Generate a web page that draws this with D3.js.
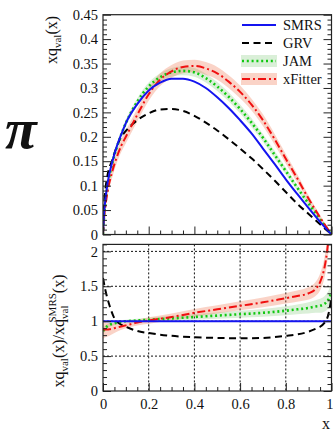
<!DOCTYPE html>
<html>
<head>
<meta charset="utf-8">
<script src="https://cdn.jsdelivr.net/npm/d3@7"></script>
<style>
  body { margin: 0; background: #fff; }
  svg { display: block; }
  text { font-family: "Liberation Serif", "DejaVu Serif", serif; fill: #111; }
</style>
</head>
<body>
<script>
// x grid for the upper panel (xq_val(x))
var xGrid = [0, 0.005, 0.01, 0.02, 0.04, 0.06, 0.08, 0.1, 0.15, 0.2, 0.25, 0.3, 0.35, 0.4, 0.45, 0.5, 0.55, 0.6, 0.65, 0.7, 0.75, 0.8, 0.85, 0.9, 0.95, 1];
var smrs    = [0, 0.045, 0.07, 0.105, 0.148, 0.18, 0.205, 0.228, 0.267, 0.295, 0.311, 0.319, 0.319, 0.313, 0.300, 0.281, 0.259, 0.234, 0.207, 0.176, 0.145, 0.113, 0.083, 0.054, 0.026, 0];
var grv     = [0, 0.062, 0.09, 0.122, 0.152, 0.18, 0.2, 0.212, 0.234, 0.248, 0.256, 0.257, 0.253, 0.243, 0.229, 0.213, 0.195, 0.176, 0.156, 0.134, 0.111, 0.087, 0.063, 0.042, 0.021, 0];
var jam     = [0, 0.04, 0.063, 0.098, 0.145, 0.178, 0.205, 0.228, 0.272, 0.303, 0.322, 0.332, 0.335, 0.332, 0.320, 0.303, 0.282, 0.257, 0.229, 0.198, 0.164, 0.130, 0.096, 0.063, 0.031, 0];
var jamErr  = [0, 0.002, 0.003, 0.004, 0.005, 0.006, 0.006, 0.007, 0.007, 0.008, 0.008, 0.009, 0.009, 0.009, 0.009, 0.009, 0.009, 0.009, 0.009, 0.008, 0.008, 0.007, 0.006, 0.005, 0.003, 0];
var xfit    = [0, 0.035, 0.056, 0.088, 0.128, 0.158, 0.182, 0.2, 0.245, 0.287, 0.317, 0.334, 0.343, 0.345, 0.340, 0.330, 0.313, 0.292, 0.266, 0.234, 0.196, 0.155, 0.115, 0.073, 0.035, 0];
var xfitErr = [0, 0.006, 0.008, 0.01, 0.012, 0.012, 0.013, 0.013, 0.013, 0.013, 0.013, 0.013, 0.013, 0.013, 0.013, 0.013, 0.013, 0.013, 0.012, 0.012, 0.011, 0.01, 0.009, 0.007, 0.005, 0];

// x grid for the ratio panel (xq_val / xq_val^SMRS)
var rGrid       = [0, 0.01, 0.02, 0.03, 0.05, 0.075, 0.1, 0.15, 0.2, 0.3, 0.4, 0.5, 0.6, 0.7, 0.8, 0.85, 0.9, 0.93, 0.95, 0.97, 0.98, 0.99, 1];
var smrsRatioX  = [0, 1];
var smrsRatio   = [1, 1];
var grvRatio    = [1.62, 1.45, 1.32, 1.21, 1.04, 0.96, 0.92, 0.86, 0.83, 0.79, 0.77, 0.76, 0.755, 0.76, 0.79, 0.81, 0.85, 0.89, 0.92, 0.98, 1.03, 1.15, 1.35];
var jamRatio    = [0.86, 0.9, 0.93, 0.95, 0.97, 0.99, 1.0, 1.01, 1.02, 1.04, 1.06, 1.08, 1.1, 1.12, 1.15, 1.17, 1.19, 1.21, 1.22, 1.25, 1.28, 1.33, 1.42];
var jamRatioErr = [0.05, 0.04, 0.035, 0.03, 0.025, 0.02, 0.02, 0.025, 0.03, 0.035, 0.04, 0.045, 0.05, 0.055, 0.065, 0.07, 0.08, 0.09, 0.1, 0.11, 0.12, 0.13, 0.15];
var xfitRatio   = [0.88, 0.88, 0.88, 0.885, 0.9, 0.92, 0.94, 0.98, 1.01, 1.06, 1.12, 1.17, 1.22, 1.27, 1.33, 1.36, 1.40, 1.46, 1.56, 1.78, 1.98, 2.3, 2.8];
var xfitRatioErr= [0.13, 0.11, 0.1, 0.09, 0.07, 0.05, 0.04, 0.04, 0.045, 0.05, 0.055, 0.06, 0.065, 0.07, 0.075, 0.08, 0.09, 0.1, 0.12, 0.15, 0.17, 0.2, 0.25];

// ticks
var xTicks      = [0, 0.2, 0.4, 0.6, 0.8, 1];
var xMinor      = [0.05, 0.1, 0.15, 0.25, 0.3, 0.35, 0.45, 0.5, 0.55, 0.65, 0.7, 0.75, 0.85, 0.9, 0.95];
var yTopTicks   = [0, 0.05, 0.1, 0.15, 0.2, 0.25, 0.3, 0.35, 0.4, 0.45];
var yTopMinor   = [0.01, 0.02, 0.03, 0.04, 0.06, 0.07, 0.08, 0.09, 0.11, 0.12, 0.13, 0.14, 0.16, 0.17, 0.18, 0.19, 0.21, 0.22, 0.23, 0.24, 0.26, 0.27, 0.28, 0.29, 0.31, 0.32, 0.33, 0.34, 0.36, 0.37, 0.38, 0.39, 0.41, 0.42, 0.43, 0.44];
var yBotTicks   = [0, 0.5, 1, 1.5, 2];
var yBotMinor   = [0.1, 0.2, 0.3, 0.4, 0.6, 0.7, 0.8, 0.9, 1.1, 1.2, 1.3, 1.4, 1.6, 1.7, 1.8, 1.9, 2.1];
var gridX       = [0.2, 0.4, 0.6, 0.8];
var gridY       = [0.5, 1, 1.5, 2];

var legendNames = ["SMRS", "GRV", "JAM", "xFitter"];

// styles
var colors = { SMRS: "#1414f0", GRV: "#000", JAM: "#10c810", xFitter: "#f01010" };
var dashes = { SMRS: null, GRV: "7,4.5", JAM: "2,2.8", xFitter: "8,3,2,3" };
var bandFill = { JAM: "rgba(70,175,60,0.2)", xFitter: "rgba(240,110,70,0.3)" };

var W = 333, H = 430;
var left = 103, right = 331.5;
var topT = 14.7, topB = 234.5;
var botT = 244.4, botB = 391;

var svg = d3.select("body").append("svg")
    .attr("width", W)
    .attr("height", H);

var x = d3.scaleLinear().domain([0, 1]).range([left, right]);
var yTop = d3.scaleLinear().domain([0, 0.45]).range([topB, topT]);
var yBot = d3.scaleLinear().domain([0, 2.1]).range([botB, botT]);

svg.append("clipPath").attr("id", "clipTop")
  .append("rect").attr("x", left).attr("y", topT).attr("width", right - left).attr("height", topB - topT);
svg.append("clipPath").attr("id", "clipBot")
  .append("rect").attr("x", left).attr("y", botT).attr("width", right - left).attr("height", botB - botT);

function zip(xs, ys, es) {
  return xs.map(function(v, i) { return { x: v, y: ys[i], e: es ? es[i] : 0 }; });
}

function drawAxes(yScale, yT, yB, majors, minors, showXLabels) {
  var g = svg.append("g").attr("class", "axes");
  // left
  g.append("g").attr("transform", "translate(" + left + ",0)")
    .call(d3.axisLeft(yScale).tickValues(majors).tickSize(-8).tickPadding(5).tickFormat(function(d) { return String(d); }));
  g.append("g").attr("transform", "translate(" + left + ",0)")
    .call(d3.axisLeft(yScale).tickValues(minors).tickSize(-4).tickFormat(""));
  // right
  g.append("g").attr("transform", "translate(" + right + ",0)")
    .call(d3.axisRight(yScale).tickValues(majors).tickSize(-8).tickFormat(""));
  g.append("g").attr("transform", "translate(" + right + ",0)")
    .call(d3.axisRight(yScale).tickValues(minors).tickSize(-4).tickFormat(""));
  // bottom
  var xb = g.append("g").attr("transform", "translate(0," + yB + ")")
    .call(d3.axisBottom(x).tickValues(xTicks).tickSize(-8).tickPadding(8)
      .tickFormat(showXLabels ? function(d) { return String(d); } : ""));
  // last label sits on the right edge, keep it inside the page
  xb.selectAll("text").filter(function(d) { return d === 1; })
    .attr("text-anchor", "end").attr("dx", 1.5);
  g.append("g").attr("transform", "translate(0," + yB + ")")
    .call(d3.axisBottom(x).tickValues(xMinor).tickSize(-4).tickFormat(""));
  g.selectAll(".domain").remove();
  g.selectAll("line").attr("stroke", "#222").attr("stroke-width", 1);
  g.selectAll("text").attr("font-size", 14.5).attr("font-family", "Liberation Serif").attr("fill", "#222");
  // frame
  g.append("rect").attr("x", left).attr("y", yT).attr("width", right - left).attr("height", yB - yT)
    .attr("fill", "none").attr("stroke", "#222").attr("stroke-width", 1.2);
}

// ---- upper panel ----
var topG = svg.append("g").attr("clip-path", "url(#clipTop)");
var areaTop = d3.area().curve(d3.curveMonotoneX)
  .x(function(d) { return x(d.x); })
  .y0(function(d) { return yTop(d.y - d.e); })
  .y1(function(d) { return yTop(d.y + d.e); });
var lineTop = d3.line().curve(d3.curveMonotoneX)
  .x(function(d) { return x(d.x); })
  .y(function(d) { return yTop(d.y); });

topG.append("path").datum(zip(xGrid, jam, jamErr)).attr("d", areaTop).attr("fill", bandFill.JAM);
topG.append("path").datum(zip(xGrid, xfit, xfitErr)).attr("d", areaTop).attr("fill", bandFill.xFitter);

var topSeries = [["GRV", grv], ["JAM", jam], ["xFitter", xfit], ["SMRS", smrs]];
topSeries.forEach(function(s) {
  topG.append("path").datum(zip(xGrid, s[1]))
    .attr("d", lineTop)
    .attr("fill", "none")
    .attr("stroke", colors[s[0]])
    .attr("stroke-width", s[0] === "JAM" ? 2.6 : 2)
    .attr("stroke-dasharray", dashes[s[0]]);
});

drawAxes(yTop, topT, topB, yTopTicks, yTopMinor, false);

// ---- ratio panel ----
var bot = svg.append("g");
bot.selectAll(".gx").data(gridX).enter().append("line")
  .attr("x1", function(d) { return x(d); }).attr("x2", function(d) { return x(d); })
  .attr("y1", botT).attr("y2", botB)
  .attr("stroke", "#111").attr("stroke-width", 1).attr("stroke-dasharray", "2,2");
bot.selectAll(".gy").data(gridY).enter().append("line")
  .attr("x1", left).attr("x2", right)
  .attr("y1", function(d) { return yBot(d); }).attr("y2", function(d) { return yBot(d); })
  .attr("stroke", "#111").attr("stroke-width", 1).attr("stroke-dasharray", "2,2");

var botC = svg.append("g").attr("clip-path", "url(#clipBot)");
var areaBot = d3.area().curve(d3.curveMonotoneX)
  .x(function(d) { return x(d.x); })
  .y0(function(d) { return yBot(d.y - d.e); })
  .y1(function(d) { return yBot(d.y + d.e); });
var lineBot = d3.line().curve(d3.curveMonotoneX)
  .x(function(d) { return x(d.x); })
  .y(function(d) { return yBot(d.y); });

botC.append("path").datum(zip(rGrid, jamRatio, jamRatioErr)).attr("d", areaBot).attr("fill", bandFill.JAM);
botC.append("path").datum(zip(rGrid, xfitRatio, xfitRatioErr)).attr("d", areaBot).attr("fill", bandFill.xFitter);

var botSeries = [["GRV", rGrid, grvRatio], ["JAM", rGrid, jamRatio], ["xFitter", rGrid, xfitRatio], ["SMRS", smrsRatioX, smrsRatio]];
botSeries.forEach(function(s) {
  botC.append("path").datum(zip(s[1], s[2]))
    .attr("d", lineBot)
    .attr("fill", "none")
    .attr("stroke", colors[s[0]])
    .attr("stroke-width", s[0] === "JAM" ? 2.6 : 2)
    .attr("stroke-dasharray", dashes[s[0]]);
});

drawAxes(yBot, botT, botB, yBotTicks, yBotMinor, true);

// ---- legend ----
var leg = svg.append("g");
legendNames.forEach(function(name, i) {
  var ly = 25 + i * 18;
  if (bandFill[name]) {
    leg.append("rect").attr("x", 241).attr("y", ly - 6).attr("width", 36).attr("height", 12)
      .attr("fill", bandFill[name]);
  }
  leg.append("line").attr("x1", 242).attr("x2", 276).attr("y1", ly).attr("y2", ly)
    .attr("stroke", colors[name]).attr("stroke-width", name === "JAM" ? 2.6 : 2)
    .attr("stroke-dasharray", dashes[name]);
  leg.append("text").attr("x", 283).attr("y", ly + 5).attr("font-size", 14.5).text(name);
});

// ---- axis titles ----
var t1 = svg.append("text")
  .attr("transform", "translate(57,40) rotate(-90)")
  .attr("text-anchor", "middle")
  .attr("font-size", 16);
t1.append("tspan").text("xq");
t1.append("tspan").attr("font-size", 11).attr("dy", 4).text("val");
t1.append("tspan").attr("dy", -4).text("(x)");

var t2 = svg.append("text")
  .attr("transform", "translate(64,331) rotate(-90)")
  .attr("text-anchor", "middle")
  .attr("font-size", 16);
t2.append("tspan").text("xq");
t2.append("tspan").attr("font-size", 11).attr("dy", 4).text("val");
t2.append("tspan").attr("dy", -4).text("(x)/xq");
t2.append("tspan").attr("font-size", 11).attr("dy", 4).text("val");
t2.append("tspan").attr("font-size", 11).attr("dx", -17).attr("dy", -12).text("SMRS");
t2.append("tspan").attr("dy", 8).text("(x)");

svg.append("text").attr("x", 326).attr("y", 428.5).attr("text-anchor", "middle")
  .attr("font-size", 16).text("x");

svg.append("text").attr("x", 5).attr("y", 148)
  .attr("font-size", 58).attr("font-weight", "bold").attr("font-style", "italic")
  .text("π");
</script>
</body>
</html>
